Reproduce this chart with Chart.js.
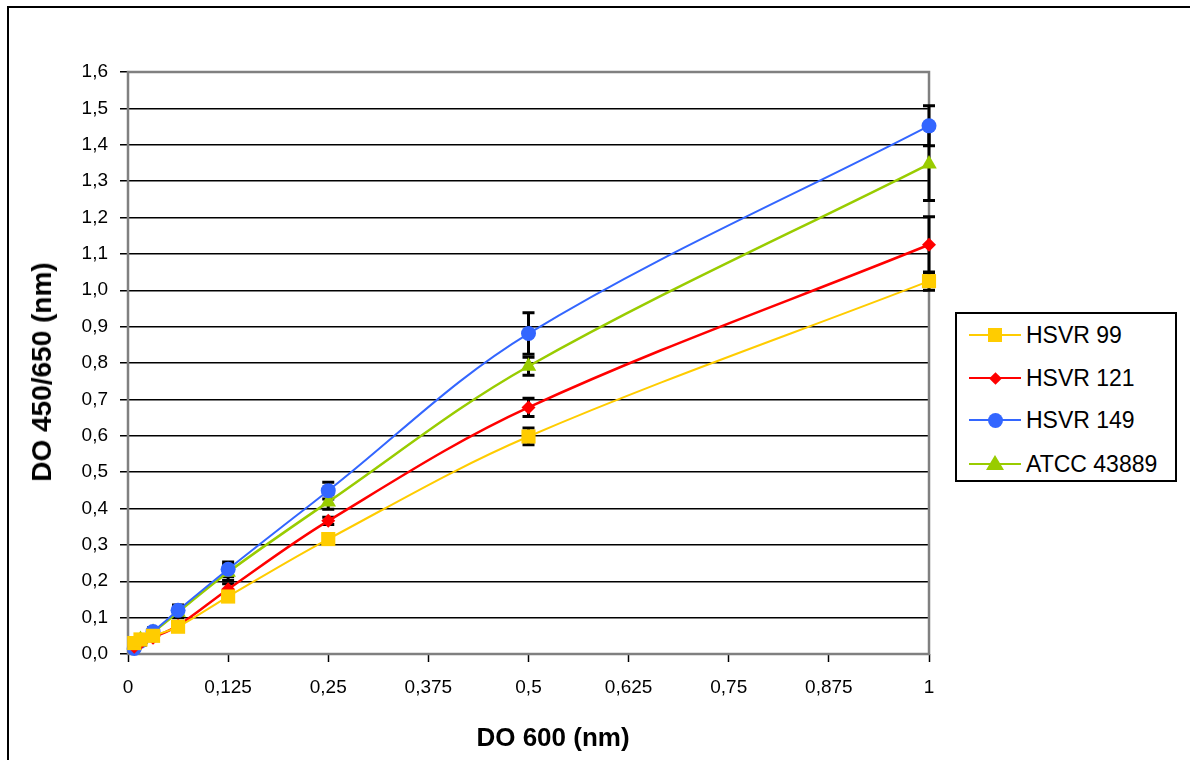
<!DOCTYPE html>
<html>
<head>
<meta charset="utf-8">
<script src="https://cdn.jsdelivr.net/npm/chart.js@4.4.0/dist/chart.umd.min.js"></script>
<style>
body { margin: 0; background: #fff; font-family: "Liberation Sans", Arial, sans-serif; }
#wrap { position: relative; width: 1190px; height: 760px; overflow: hidden; }
#frame { position: absolute; left: 7px; top: 6px; width: 1300px; height: 900px; border-top: 2px solid #000; border-left: 2px solid #000; }
#chart { position: absolute; left: 0; top: 0; }
.axis-title { position: absolute; font-weight: bold; color: #000; white-space: nowrap; }
#xTitle { left: 553px; top: 737px; font-size: 26px; transform: translate(-50%, -50%); }
#yTitle { left: 42px; top: 372px; font-size: 28px; transform: translate(-50%, -50%) rotate(-90deg); }
#legend { position: absolute; left: 955px; top: 312px; width: 222px; height: 170px; border: 2px solid #000; box-sizing: border-box; background: #fff; }
.item { position: absolute; left: 12px; height: 24px; display: flex; align-items: center; font-size: 23px; color: #000; }
.key { position: relative; width: 52px; height: 24px; margin-right: 5px; }
.key .ln { position: absolute; left: 0; right: 0; top: 50%; }
.key .mk { position: absolute; left: 50%; top: 50%; }
</style>
</head>
<body>
<div id="wrap">
  <div id="frame"></div>
  <canvas id="chart" width="1190" height="760"></canvas>
  <div id="xTitle" class="axis-title">DO 600 (nm)</div>
  <div id="yTitle" class="axis-title">DO 450/650 (nm)</div>
  <div id="legend"></div>
</div>
<script>
// Data
const xValues = [0.0078, 0.0156, 0.03125, 0.0625, 0.125, 0.25, 0.5, 1];
const seriesNames = ['HSVR 99', 'HSVR 121', 'HSVR 149', 'ATCC 43889'];

const hsvr99 = [0.030, 0.040, 0.050, 0.075, 0.158, 0.316, 0.598, 1.025];
const hsvr121 = [0.020, 0.030, 0.045, 0.078, 0.178, 0.366, 0.678, 1.125];
const hsvr149 = [0.015, 0.035, 0.062, 0.120, 0.233, 0.449, 0.881, 1.452];
const atcc43889 = [0.025, 0.040, 0.060, 0.115, 0.225, 0.418, 0.791, 1.347];

const hsvr99Err = [0.005, 0.005, 0.005, 0.005, 0.010, 0.010, 0.023, 0.025];
const hsvr121Err = [0.005, 0.005, 0.008, 0.010, 0.015, 0.010, 0.025, 0.077];
const hsvr149Err = [0.005, 0.010, 0.010, 0.015, 0.020, 0.023, 0.057, 0.055];
const atcc43889Err = [0.005, 0.010, 0.010, 0.015, 0.022, 0.020, 0.025, 0.100];

const xTickLabels = ['0', '0,125', '0,25', '0,375', '0,5', '0,625', '0,75', '0,875', '1'];
const yTickLabels = ['0,0', '0,1', '0,2', '0,3', '0,4', '0,5', '0,6', '0,7', '0,8',
                     '0,9', '1,0', '1,1', '1,2', '1,3', '1,4', '1,5', '1,6'];

const colors = ['#FFCC00', '#FF0000', '#3366FF', '#99CC00'];
const pointStyles = ['rect', 'rectRot', 'circle', 'triangle'];
const pointSizes = [10, 7, 7.5, 9];
const lineWidths = [2, 2.5, 2, 2.5];

const allValues = [hsvr99, hsvr121, hsvr149, atcc43889];
const allErrors = [hsvr99Err, hsvr121Err, hsvr149Err, atcc43889Err];

const datasets = seriesNames.map((name, s) => ({
  label: name,
  data: xValues.map((x, i) => ({ x: x, y: allValues[s][i] })),
  errors: allErrors[s],
  showLine: true,
  clip: false,
  tension: 0.35,
  borderColor: colors[s],
  backgroundColor: colors[s],
  borderWidth: lineWidths[s],
  pointStyle: pointStyles[s],
  pointRadius: pointSizes[s],
  pointBorderWidth: 0,
  pointBackgroundColor: colors[s]
}));

// gray plot frame + error bars, drawn under the series
const plotFrame = {
  id: 'plotFrame',
  beforeDatasetsDraw(chart) {
    const { ctx, chartArea: a, scales: { x, y } } = chart;
    ctx.save();
    ctx.strokeStyle = '#808080';
    ctx.lineWidth = 2.5;
    ctx.strokeRect(a.left, a.top, a.right - a.left, a.bottom - a.top);

    ctx.strokeStyle = '#000';
    ctx.lineWidth = 3;
    chart.data.datasets.forEach(ds => {
      ds.data.forEach((p, i) => {
        const e = ds.errors[i];
        const px = x.getPixelForValue(p.x);
        const top = y.getPixelForValue(p.y + e);
        const bot = y.getPixelForValue(p.y - e);
        ctx.beginPath();
        ctx.moveTo(px, top); ctx.lineTo(px, bot);
        ctx.moveTo(px - 6, top); ctx.lineTo(px + 6, top);
        ctx.moveTo(px - 6, bot); ctx.lineTo(px + 6, bot);
        ctx.stroke();
      });
    });
    ctx.restore();
  }
};

const ctx = document.getElementById('chart').getContext('2d');
new Chart(ctx, {
  type: 'scatter',
  data: { datasets: datasets },
  options: {
    responsive: false,
    animation: false,
    layout: { padding: { left: 8, top: 72, right: 261, bottom: 0 } },
    plugins: { legend: { display: false }, tooltip: { enabled: false } },
    scales: {
      x: {
        type: 'linear', min: 0, max: 1,
        afterFit: s => { s.height = 106; },
        border: { display: false },
        grid: { drawOnChartArea: false, drawTicks: true, tickLength: 8, tickColor: '#000', tickWidth: 1.5 },
        ticks: {
          stepSize: 0.125, padding: 14, color: '#000',
          font: { family: '"Liberation Sans", Arial, sans-serif', size: 19 },
          callback: (v, i) => xTickLabels[i]
        }
      },
      y: {
        min: 0, max: 1.6,
        afterFit: s => { s.width = 120; },
        border: { display: false },
        grid: { color: '#000', lineWidth: 1.5, tickLength: 8, tickColor: '#000', tickWidth: 1.5 },
        ticks: {
          stepSize: 0.1, padding: 12, color: '#000',
          font: { family: '"Liberation Sans", Arial, sans-serif', size: 19 },
          callback: (v, i) => yTickLabels[i]
        }
      }
    }
  },
  plugins: [plotFrame]
});

// legend: line with marker, like the spreadsheet legend
const legend = document.getElementById('legend');
const rowTops = [9, 52, 94, 138];
seriesNames.forEach((name, s) => {
  const item = document.createElement('div');
  item.className = 'item';
  item.style.top = rowTops[s] + 'px';
  let mk;
  if (s === 0) mk = '<div class="mk" style="width:14px;height:14px;margin:-7px 0 0 -7px;background:' + colors[s] + '"></div>';
  if (s === 1) mk = '<div class="mk" style="width:9px;height:9px;margin:-4.5px 0 0 -4.5px;transform:rotate(45deg);background:' + colors[s] + '"></div>';
  if (s === 2) mk = '<div class="mk" style="width:15px;height:15px;margin:-7.5px 0 0 -7.5px;border-radius:50%;background:' + colors[s] + '"></div>';
  if (s === 3) mk = '<div class="mk" style="width:0;height:0;margin:-9px 0 0 -9px;border-left:9px solid transparent;border-right:9px solid transparent;border-bottom:15px solid ' + colors[s] + '"></div>';
  item.innerHTML = '<div class="key"><div class="ln" style="border-top:' + lineWidths[s] + 'px solid ' + colors[s] +
    ';margin-top:-' + (lineWidths[s] / 2) + 'px"></div>' + mk + '</div><span>' + name + '</span>';
  legend.appendChild(item);
});
</script>
</body>
</html>
